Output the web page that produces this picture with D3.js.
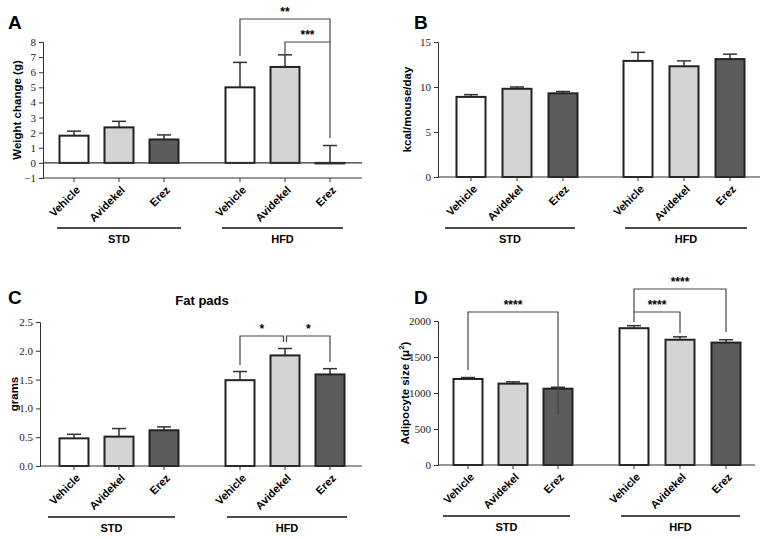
<!DOCTYPE html>
<html><head><meta charset="utf-8">
<script src="https://cdn.jsdelivr.net/npm/d3@7"></script>
<style>body{margin:0;background:#fff}</style></head>
<body><svg id="c" width="766" height="539"></svg>
<script>
const treatments = ["Vehicle","Avidekel","Erez","Vehicle","Avidekel","Erez"];
const groups = ["STD","HFD"];
const fills = ["#ffffff","#d4d4d4","#5c5c5c","#ffffff","#d4d4d4","#5c5c5c"];
const weightMean = [1.8,2.35,1.55,5.0,6.35,0.0];
const weightErr  = [0.3,0.4,0.3,1.65,0.8,1.15];
const weightTicks = [-1,0,1,2,3,4,5,6,7,8];
const kcalMean = [8.9,9.8,9.3,12.9,12.3,13.1];
const kcalErr  = [0.25,0.2,0.2,0.95,0.6,0.55];
const kcalTicks = [0,5,10,15];
const fatMean = [0.48,0.51,0.62,1.49,1.92,1.59];
const fatErr  = [0.07,0.14,0.06,0.15,0.12,0.1];
const fatTicks = [0,0.5,1,1.5,2,2.5];
const adipMean = [1195,1130,1060,1900,1740,1700];
const adipErr  = [20,25,20,35,40,40];
const adipTicks = [0,500,1000,1500,2000];

const svg = d3.select("#c");

function panel(o){
  const g = svg.append("g");
  const y = d3.scaleLinear().domain(o.domain).range([o.y1,o.y0]);
  const x = d3.scalePoint().domain(d3.range(6)).range([o.cx[0],o.cx[2]]);
  const cxs = [0,1,2,3,4,5].map(i=> i<3 ? o.cx[0]+(o.cx[1]-o.cx[0])*i : o.cx[2]+(o.cx[3]-o.cx[2])*(i-3));
  const bw = 29;
  // letter
  g.append("text").attr("x",o.lx).attr("y",o.ly).text(o.letter)
    .attr("font-family","Liberation Sans, Arial").attr("font-weight","bold").attr("font-size",19);
  if(o.title) g.append("text").attr("x",o.title[1]).attr("y",o.title[2]).attr("text-anchor","middle")
    .attr("font-family","Liberation Sans, Arial").attr("font-weight","bold").attr("font-size",13).text(o.title[0]);
  // y axis
  const ax = g.append("g").attr("transform",`translate(${o.ax},0)`)
    .call(d3.axisLeft(y).tickValues(o.ticks).tickSize(4).tickFormat(o.fmt||(d=>d<0?"\u22121":d)));
  ax.selectAll("text").attr("font-family","Liberation Serif, Times New Roman").attr("font-size",11).attr("fill","#222");
  ax.selectAll("line,path").attr("stroke","#333");
  // y label
  g.append("text").attr("transform",`translate(${o.ylx},${(o.y0+o.y1)/2}) rotate(-90)`)
    .attr("text-anchor","middle").attr("font-family","Liberation Sans, Arial").attr("font-weight","bold")
    .attr("font-size",11.5).html(o.ylab);
  const y0 = y(Math.max(0,o.domain[0]));
  // bars
  o.mean.forEach((m,i)=>{
    const cx = cxs[i];
    const top = y(m+o.err[i]);
    g.append("line").attr("x1",cx).attr("x2",cx).attr("y1",y(m)).attr("y2",top).attr("stroke","#333").attr("stroke-width",1.5);
    g.append("line").attr("x1",cx-7).attr("x2",cx+7).attr("y1",top).attr("y2",top).attr("stroke","#333").attr("stroke-width",1.5);
    g.append("rect").attr("x",cx-bw/2).attr("width",bw).attr("y",Math.min(y(m),y0)).attr("height",Math.max(Math.abs(y0-y(m)),0.5))
      .attr("fill",fills[i]).attr("stroke","#222").attr("stroke-width",2);
  });
  // x axis
  g.append("line").attr("x1",o.ax).attr("x2",o.axEnd).attr("y1",y0).attr("y2",y0).attr("stroke","#333").attr("stroke-width",1.2);
  if(o.domain[0]<0) g.append("line").attr("x1",o.ax).attr("x2",o.axEnd).attr("y1",o.y1).attr("y2",o.y1).attr("stroke","#333").attr("stroke-width",1.2);
  cxs.forEach((cx,i)=>{
    g.append("line").attr("x1",cx).attr("x2",cx).attr("y1",o.y1).attr("y2",o.y1+4).attr("stroke","#333");
    g.append("text").attr("transform",`translate(${cx+4},${o.y1+10}) rotate(-45)`).attr("text-anchor","end")
      .attr("font-family","Liberation Sans, Arial").attr("font-weight","bold").attr("font-size",11).attr("dy","0.35em").text(treatments[i]);
  });
  // group lines
  groups.forEach((gr,k)=>{
    const [a,b]=o.grp[k];
    g.append("line").attr("x1",a).attr("x2",b).attr("y1",o.gy).attr("y2",o.gy).attr("stroke","#111").attr("stroke-width",1.5);
    g.append("text").attr("x",(a+b)/2).attr("y",o.gy+15).attr("text-anchor","middle")
      .attr("font-family","Liberation Sans, Arial").attr("font-weight","bold").attr("font-size",11).text(gr);
  });
  // significance brackets: [i, j, top, leftBottom, rightBottom, label]
  (o.sig||[]).forEach(s=>{
    const [i,j,t,lb,rb,lab]=s;
    const a=cxs[i]+(s[6]||0), b=cxs[j]+(s[7]||0);
    g.append("path").attr("d",`M${a},${lb}V${t}H${b}V${rb}`).attr("fill","none").attr("stroke","#444").attr("stroke-width",1.2);
    g.append("text").attr("x",(a+b)/2).attr("y",t-3).attr("text-anchor","middle")
      .attr("font-family","Liberation Sans, Arial").attr("font-weight","bold").attr("font-size",12).text(lab);
  });
}

panel({letter:"A",lx:8,ly:29,domain:[-1,8],y0:42,y1:178,ax:43,axEnd:362,cx:[74,119,240,285],
  mean:weightMean,err:weightErr,ticks:weightTicks,ylx:21,ylab:"Weight change (g)",
  grp:[[57,181],[222,343]],gy:228,
  sig:[[3,5,19,56,138,"**"],[4,5,42,54,42,"***"]]});
panel({letter:"B",lx:414,ly:29,domain:[0,15],y0:42,y1:177,ax:438,axEnd:760,cx:[471,517,638,684],
  mean:kcalMean,err:kcalErr,ticks:kcalTicks,ylx:411,ylab:"kcal/mouse/day",
  grp:[[445,575],[625,747]],gy:228});
panel({letter:"C",lx:8,ly:304,title:["Fat pads",202,305],domain:[0,2.5],y0:322,y1:466,ax:40,axEnd:362,cx:[74,119,240,285],
  mean:fatMean,err:fatErr,ticks:fatTicks,fmt:d3.format(".1f"),ylx:18,ylab:"grams",
  grp:[[48,175],[227,347]],gy:517,
  sig:[[3,4,336,365,342,"*",0,-1.5],[4,5,336,342,362,"*",1.5,0]]});
panel({letter:"D",lx:414,ly:304,domain:[0,2000],y0:321,y1:465,ax:438,axEnd:755,cx:[468,513,634,680],
  mean:adipMean,err:adipErr,ticks:adipTicks,ylx:409,ylab:"Adipocyte size (\u03bc<tspan dy='-5' font-size='8'>2</tspan><tspan dy='5'>)</tspan>",
  grp:[[443,570],[621,740]],gy:516,
  sig:[[0,2,312,370,415,"****"],[3,5,289,322,332,"****"],[3,4,312,312,333,"****"]]});
</script></body></html>
